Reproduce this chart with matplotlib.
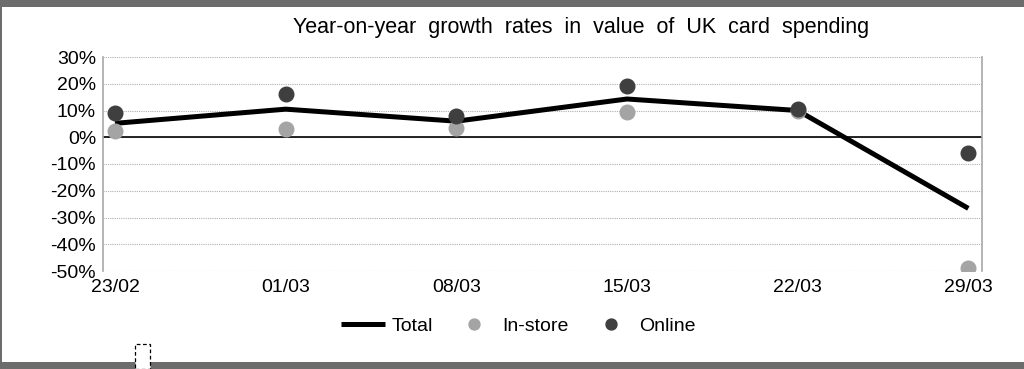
"""Year-on-year growth in UK card spending: total line with in-store and online dots."""

import matplotlib
matplotlib.use("Agg")
import matplotlib.pyplot as plt
from matplotlib.patches import Rectangle
from matplotlib.ticker import FuncFormatter, MultipleLocator

plt.rcParams["font.family"] = ["Liberation Sans", "DejaVu Sans"]
plt.rcParams["hatch.color"] = "#404040"
plt.rcParams["hatch.linewidth"] = 0.8

weeks = ["23/02", "01/03", "08/03", "15/03", "22/03", "29/03"]
total = [5.2, 10.5, 6.0, 14.3, 10.0, -26.6]
in_store = [2.2, 3.1, 3.5, 9.5, 9.7, -49.0]
online = [9.0, 16.0, 7.9, 19.0, 10.5, -5.9]

fig = plt.figure(figsize=(10.24, 3.69), dpi=100)
ax = fig.add_axes([103 / 1024, 98 / 369, 879 / 1024, 214 / 369])

x = list(range(len(weeks)))
ax.plot(x, total, color="black", linewidth=3.6, solid_capstyle="butt", label="Total", zorder=3)
ax.plot(x, in_store, linestyle="none", marker="o", markersize=10.5,
        color="#a4a4a4", label="In-store", zorder=4)
ax.plot(x, online, linestyle="none", marker="o", markersize=10.5,
        color="#3f3f3f", label="Online", zorder=4)

ax.set_xlim(-0.07, 5.08)
ax.set_ylim(-50, 30)
ax.yaxis.set_major_locator(MultipleLocator(10))
ax.yaxis.set_major_formatter(FuncFormatter(lambda v, _: f"{v:.0f}%"))
ax.set_xticks(x)
ax.set_xticklabels(weeks)
ax.tick_params(axis="both", length=0, labelsize=14, colors="black")
ax.tick_params(axis="y", pad=5)
ax.tick_params(axis="x", pad=6)

ax.grid(axis="y", color="#b0b0b0", linestyle=(0, (1, 1)), linewidth=0.8)
ax.axhline(0, color="black", linewidth=1.2, zorder=2)
for side in ("top", "bottom"):
    ax.spines[side].set_visible(False)
for side in ("left", "right"):
    ax.spines[side].set_color("#a8a8a8")
    ax.spines[side].set_linewidth(1.2)

fig.text(0.567, 0.925, "Year-on-year  growth  rates  in  value  of  UK  card  spending",
         ha="center", va="center", fontsize=15.5)

fig.legend(loc="center", bbox_to_anchor=(0.506, 0.117), ncol=3, frameon=False,
           fontsize=14, handlelength=2.3, handletextpad=0.3, columnspacing=1.0,
           markerscale=0.75)

# hatched frame bands around the chart
for (x0, y0, w, h) in [(0, 362, 1024, 7), (0, 0, 1024, 7), (0, 0, 2, 369)]:
    fig.patches.append(Rectangle((x0 / 1024, 1 - (y0 + h) / 369), w / 1024, h / 369,
                                 transform=fig.transFigure, facecolor="#6c6c6c",
                                 edgecolor="none", hatch="//////", zorder=0))

# small dashed handle at the bottom edge
fig.patches.append(Rectangle((135 / 1024, 0), 15 / 1024, 25 / 369, transform=fig.transFigure,
                             facecolor="white", edgecolor="black", linewidth=0.9,
                             linestyle=(0, (3, 2)), zorder=5))

fig.savefig("out.png", dpi=100)
plt.close("all")
